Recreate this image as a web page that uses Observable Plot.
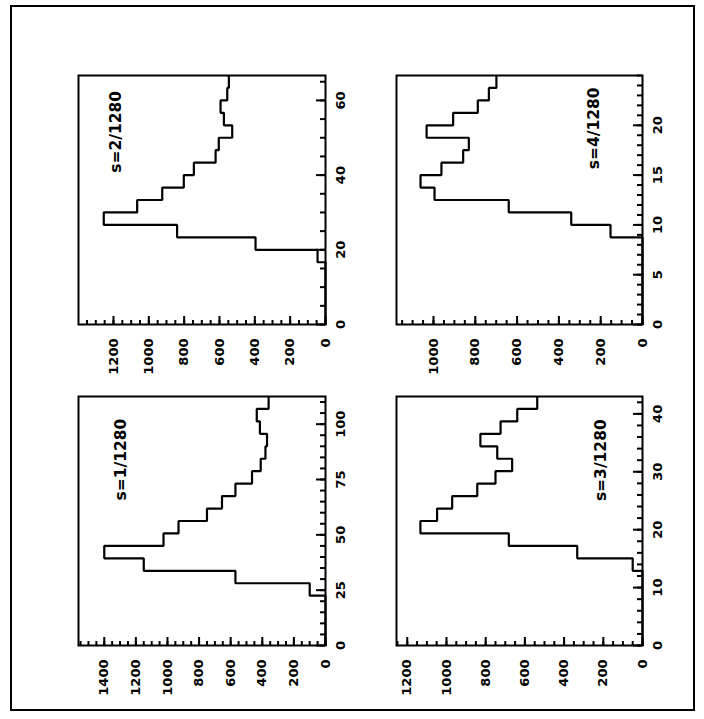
<!DOCTYPE html>
<html><head><meta charset="utf-8">
<script src="https://cdn.jsdelivr.net/npm/d3@7"></script>
<script src="https://cdn.jsdelivr.net/npm/@observablehq/plot@0.6"></script>
<style>
html,body{margin:0;padding:0;background:#fff;width:704px;height:719px;overflow:hidden;}
#fig{position:absolute;left:0;top:0;width:719px;height:704px;transform-origin:0 0;transform:translate(0,719px) rotate(-90deg);}
#fig svg{position:absolute;left:0;top:0;}
#border{position:absolute;left:8px;top:10px;width:706px;height:685px;border:2px solid #000;box-sizing:border-box;}
</style></head><body><div id="fig"><div id="border"></div></div>
<script>
// panel labels
const labels = ["s=1/1280", "s=2/1280", "s=3/1280", "s=4/1280"];
// upper end of the bin axis of each panel (20 equal bins)
const binMax = [112.5, 66.67, 43, 25];
// upper end of the count axis of each panel
const countMax = [1563, 1398, 1255, 1177];
// counts per bin (20 bins each)
const counts1 = [0, 0, 0, 0, 100, 570, 1150, 1400, 1025, 930, 750, 655, 570, 465, 410, 380, 370, 415, 435, 360];
const counts2 = [0, 0, 0, 0, 0, 45, 396, 840, 1255, 1066, 924, 802, 745, 622, 604, 528, 575, 594, 556, 547];
const counts3 = [0, 0, 0, 0, 0, 0, 50, 333, 682, 1133, 1048, 971, 843, 750, 665, 741, 827, 724, 639, 537];
const counts4 = [0, 0, 0, 0, 0, 0, 0, 153, 341, 640, 995, 1062, 962, 858, 831, 1033, 906, 788, 735, 699];
// tick labels
const binTicks1 = [0, 25, 50, 75, 100];
const binTicks2 = [0, 20, 40, 60];
const binTicks3 = [0, 10, 20, 30, 40];
const binTicks4 = [0, 5, 10, 15, 20];
const countTicks1 = [0, 200, 400, 600, 800, 1000, 1200, 1400];
const countTicks2 = [0, 200, 400, 600, 800, 1000, 1200];
const countTicks3 = [0, 200, 400, 600, 800, 1000, 1200];
const countTicks4 = [0, 200, 400, 600, 800, 1000];
const minorBinStep = [5, 5, 2, 1];
const minorCountStep = [50, 50, 50, 50];
// label anchor (bin value, count value)
const labelBin = [84, 51.6, 32, 19.7];
const labelCount = [1297, 1183, 214, 234];

const W = 719, H = 704;
const frames = [
  {l: 73, r: 322, t: 78, b: 325},
  {l: 394, r: 643, t: 78, b: 325},
  {l: 73, r: 322, t: 396, b: 642},
  {l: 394, r: 643, t: 396, b: 642}
];
const allCounts = [counts1, counts2, counts3, counts4];
const allBinTicks = [binTicks1, binTicks2, binTicks3, binTicks4];
const allCountTicks = [countTicks1, countTicks2, countTicks3, countTicks4];

const fig = document.getElementById("fig");
for (let i = 0; i < 4; i++) {
  const counts = allCounts[i];
  const n = counts.length, bw = binMax[i] / n;
  const pts = counts.map((c, k) => ({x: k * bw, y: c})).concat([{x: n * bw, y: counts[n - 1]}]);
  const minorB = d3.range(0, binMax[i] + 1e-9, minorBinStep[i]);
  const minorC = d3.range(0, countMax[i], minorCountStep[i]);
  const F = frames[i];
  const blank = () => "";
  const chart = Plot.plot({
    width: W, height: H,
    marginLeft: F.l, marginRight: W - F.r, marginTop: F.t, marginBottom: H - F.b,
    x: {domain: [0, binMax[i]]},
    y: {domain: [0, countMax[i]]},
    style: {background: "none", fontFamily: "DejaVu Sans", fontSize: "13px", fontWeight: "bold", color: "#000"},
    marks: [
      // inward ticks: drawn outward then shifted back inside the frame
      Plot.axisX(minorB, {tickSize: 5, dy: -5, tickFormat: blank, strokeWidth: 2, label: null}),
      Plot.axisX(allBinTicks[i], {tickSize: 9, dy: -9, tickFormat: blank, strokeWidth: 2, label: null}),
      Plot.axisX(allBinTicks[i], {tickSize: 0, tickPadding: 10, label: null, tickFormat: d => String(d)}),
      Plot.axisY(minorC, {tickSize: 5, dx: 5, tickFormat: blank, strokeWidth: 2, label: null}),
      Plot.axisY(allCountTicks[i], {tickSize: 9, dx: 9, tickFormat: blank, strokeWidth: 2, label: null}),
      Plot.axisY(allCountTicks[i], {tickSize: 0, tickPadding: 14, label: null, tickFormat: d => String(d)}),
      Plot.line(pts, {x: "x", y: "y", curve: "step-after", strokeWidth: 2.2, stroke: "#000", strokeLinejoin: "miter", strokeLinecap: "butt"}),
      Plot.frame({strokeWidth: 2, stroke: "#000"}),
      Plot.text([{x: labelBin[i], y: labelCount[i], t: labels[i]}], {x: "x", y: "y", text: "t", fontSize: 15.5, fontWeight: "bold", fill: "#000"})
    ]
  });
  fig.appendChild(chart);
}
</script></body></html>
